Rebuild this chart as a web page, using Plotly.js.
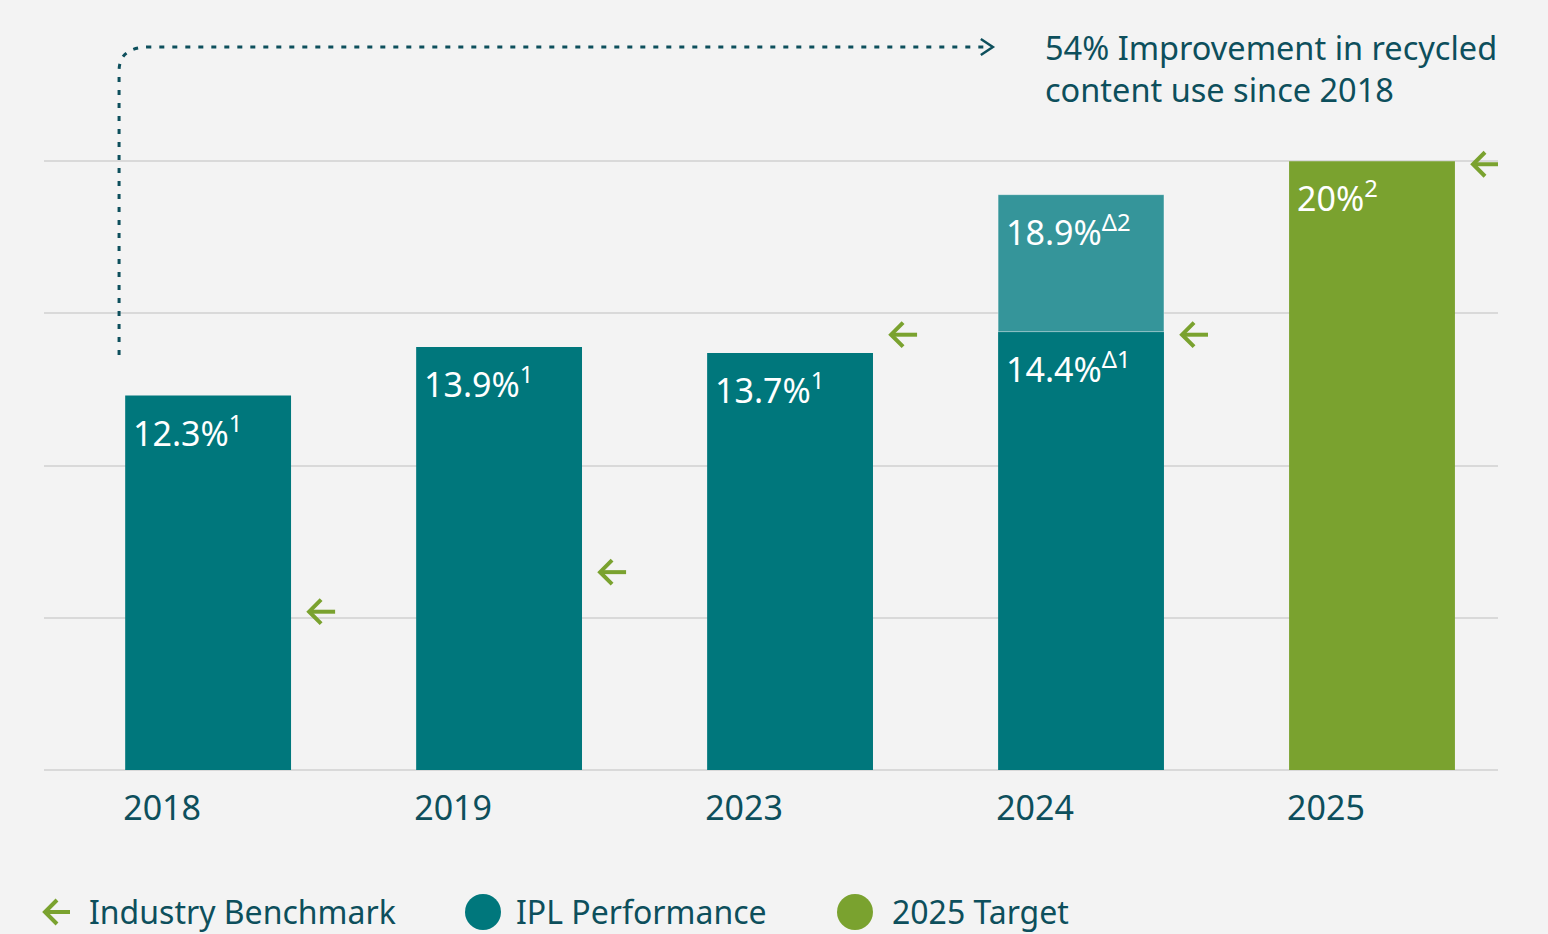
<!DOCTYPE html>
<html>
<head>
<meta charset="utf-8">
<script src="https://cdn.plot.ly/plotly-3.0.1.min.js"></script>
<style>html,body{margin:0;padding:0;background:#f3f3f3;}#chart{width:1548px;height:934px;}</style>
</head>
<body>
<div id="chart"></div>
<script>
// ---- data ----
const categories = ["2018", "2019", "2023", "2024", "2025"];
const iplPerformance = [12.3, 13.9, 13.7, 14.4, null];
const iplPerformance2024Total = [null, null, null, 18.9, null];
const target2025 = [null, null, null, null, 20];
const industryBenchmark = [5.2, 6.5, 14.3, 14.3, 19.9];
const barLabels = ["12.3%<sup>1</sup>", "13.9%<sup>1</sup>", "13.7%<sup>1</sup>", "14.4%<sup>Δ1</sup>", "20%<sup>2</sup>"];
const upperLabels = [null, null, null, "18.9%<sup>Δ2</sup>", null];
const calloutText = "54% Improvement in recycled<br>content use since 2018";
const legendLabels = ["Industry Benchmark", "IPL Performance", "2025 Target"];

// ---- styles ----
const TEAL = "#00777c", TEAL_LIGHT = "#35959a", GREEN = "#7aa22f", TEXT = "#0d4f5c", BG = "#f3f3f3";
const FONT = "Noto Sans, Open Sans, sans-serif";
const BAR_W = 0.57;
const xs = categories.map((c, i) => i);

// geometry helpers (plot: x 44..1498 px, y 9..770 px)
const L = 44, R = 1498, T = 9, B = 770;
const xMin = -0.564, xMax = 4.433, yMax = 25;
const pxPerX = (R - L) / (xMax - xMin), pxPerY = (B - T) / yMax;

const traces = [];
traces.push({type: "bar", x: xs, y: iplPerformance, width: BAR_W, marker: {color: TEAL, line: {width: 0}}, hoverinfo: "skip", showlegend: false});
traces.push({type: "bar", x: xs,
  y: iplPerformance2024Total.map((v, i) => v == null ? null : v - iplPerformance[i]),
  base: iplPerformance.map((v, i) => iplPerformance2024Total[i] == null ? null : v),
  width: BAR_W, marker: {color: TEAL_LIGHT, line: {width: 1, color: "rgba(255,255,255,0.35)"}}, hoverinfo: "skip", showlegend: false});
traces.push({type: "bar", x: xs, y: target2025, width: BAR_W, marker: {color: GREEN, line: {width: 0}}, hoverinfo: "skip", showlegend: false});

// benchmark arrows (left-pointing) built from benchmark values
const ax = [], ay = [];
const halfW = 13 / pxPerX, head = 12 / pxPerX, headH = 12 / pxPerY, off = 114 / pxPerX;
industryBenchmark.forEach((v, i) => {
  const xc = i + off;
  ax.push(xc + halfW, xc - halfW, null, xc - halfW + head, xc - halfW, xc - halfW + head, null);
  ay.push(v, v, null, v + headH, v, v - headH, null);
});
traces.push({type: "scatter", mode: "lines", x: ax, y: ay, line: {color: GREEN, width: 4}, connectgaps: false, hoverinfo: "skip", showlegend: false, cliponaxis: false});

const annotations = [];
const LABEL_FONT = {family: FONT, size: 34, color: "#ffffff"};
iplPerformance.forEach((v, i) => {
  const top = v != null ? v : target2025[i];
  annotations.push({xref: "x", yref: "y", x: i - BAR_W / 2, y: top, xanchor: "left", yanchor: "top", xshift: 6, yshift: -9,
    text: barLabels[i], showarrow: false, font: LABEL_FONT});
  if (upperLabels[i]) {
    annotations.push({xref: "x", yref: "y", x: i - BAR_W / 2, y: iplPerformance2024Total[i], xanchor: "left", yanchor: "top", xshift: 6, yshift: -9,
      text: upperLabels[i], showarrow: false, font: LABEL_FONT});
  }
});
annotations.push({xref: "paper", yref: "paper", x: (1043 - L) / (R - L), y: (B - 23) / (B - T), xanchor: "left", yanchor: "top", align: "left",
  text: calloutText, showarrow: false, font: {family: FONT, size: 32.5, color: TEXT}});

// legend
const py = v => (B - v) / (B - T), pxf = v => (v - L) / (R - L);
const legY = 912;
const legX = [87, 514, 890];
legendLabels.forEach((t, k) => {
  annotations.push({xref: "paper", yref: "paper", x: pxf(legX[k]), y: py(legY), xanchor: "left", yanchor: "middle",
    text: t, showarrow: false, font: {family: FONT, size: 32, color: TEXT}});
});

// dotted callout bracket (data coords)
const bx = -0.306, by0 = 13.63, byTop = (B - 47) / pxPerY, bx1 = 2.69;
const rX = 30 / pxPerX, rY = 24 / pxPerY;
const shapes = [
  {type: "path", xref: "x", yref: "y",
   path: `M ${bx} ${by0} L ${bx} ${byTop - rY} Q ${bx} ${byTop} ${bx + rX} ${byTop} L ${bx1} ${byTop}`,
   line: {color: TEXT, width: 3, dash: "5px,8px"}},
  {type: "path", xref: "x", yref: "y",
   path: `M ${bx1 - 10 / pxPerX} ${byTop + 8 / pxPerY} L ${bx1 + 2 / pxPerX} ${byTop} L ${bx1 - 10 / pxPerX} ${byTop - 8 / pxPerY}`,
   line: {color: TEXT, width: 2.5}},
  // legend arrow
  {type: "path", xref: "paper", yref: "paper",
   path: `M ${pxf(70)} ${py(legY)} L ${pxf(45)} ${py(legY)} M ${pxf(57)} ${py(legY - 12)} L ${pxf(45)} ${py(legY)} L ${pxf(57)} ${py(legY + 12)}`,
   line: {color: GREEN, width: 4}},
  {type: "circle", xref: "paper", yref: "paper", x0: pxf(465), x1: pxf(501), y0: py(legY + 18), y1: py(legY - 18), fillcolor: TEAL, line: {width: 0}},
  {type: "circle", xref: "paper", yref: "paper", x0: pxf(837), x1: pxf(873), y0: py(legY + 18), y1: py(legY - 18), fillcolor: GREEN, line: {width: 0}}
];

const layout = {
  width: 1548, height: 934,
  margin: {l: L, r: 1548 - R, t: T, b: 934 - B, pad: 0},
  paper_bgcolor: BG, plot_bgcolor: BG,
  barmode: "overlay",
  showlegend: false,
  font: {family: FONT, color: TEXT},
  xaxis: {range: [xMin, xMax], tickvals: xs.map(x => x - 46 / pxPerX), ticktext: categories,
    tickfont: {family: FONT, size: 34, color: TEXT}, ticks: "outside", ticklen: 8, tickcolor: "rgba(0,0,0,0)",
    showgrid: false, zeroline: false, showline: false, fixedrange: true},
  yaxis: {range: [0, yMax], dtick: 5, showticklabels: false, showgrid: true, gridcolor: "#d9d9d9", gridwidth: 2,
    zeroline: true, zerolinecolor: "#d9d9d9", zerolinewidth: 2, showline: false, fixedrange: true},
  annotations: annotations,
  shapes: shapes
};

Plotly.newPlot("chart", traces, layout, {displayModeBar: false, staticPlot: true});
</script>
</body>
</html>
